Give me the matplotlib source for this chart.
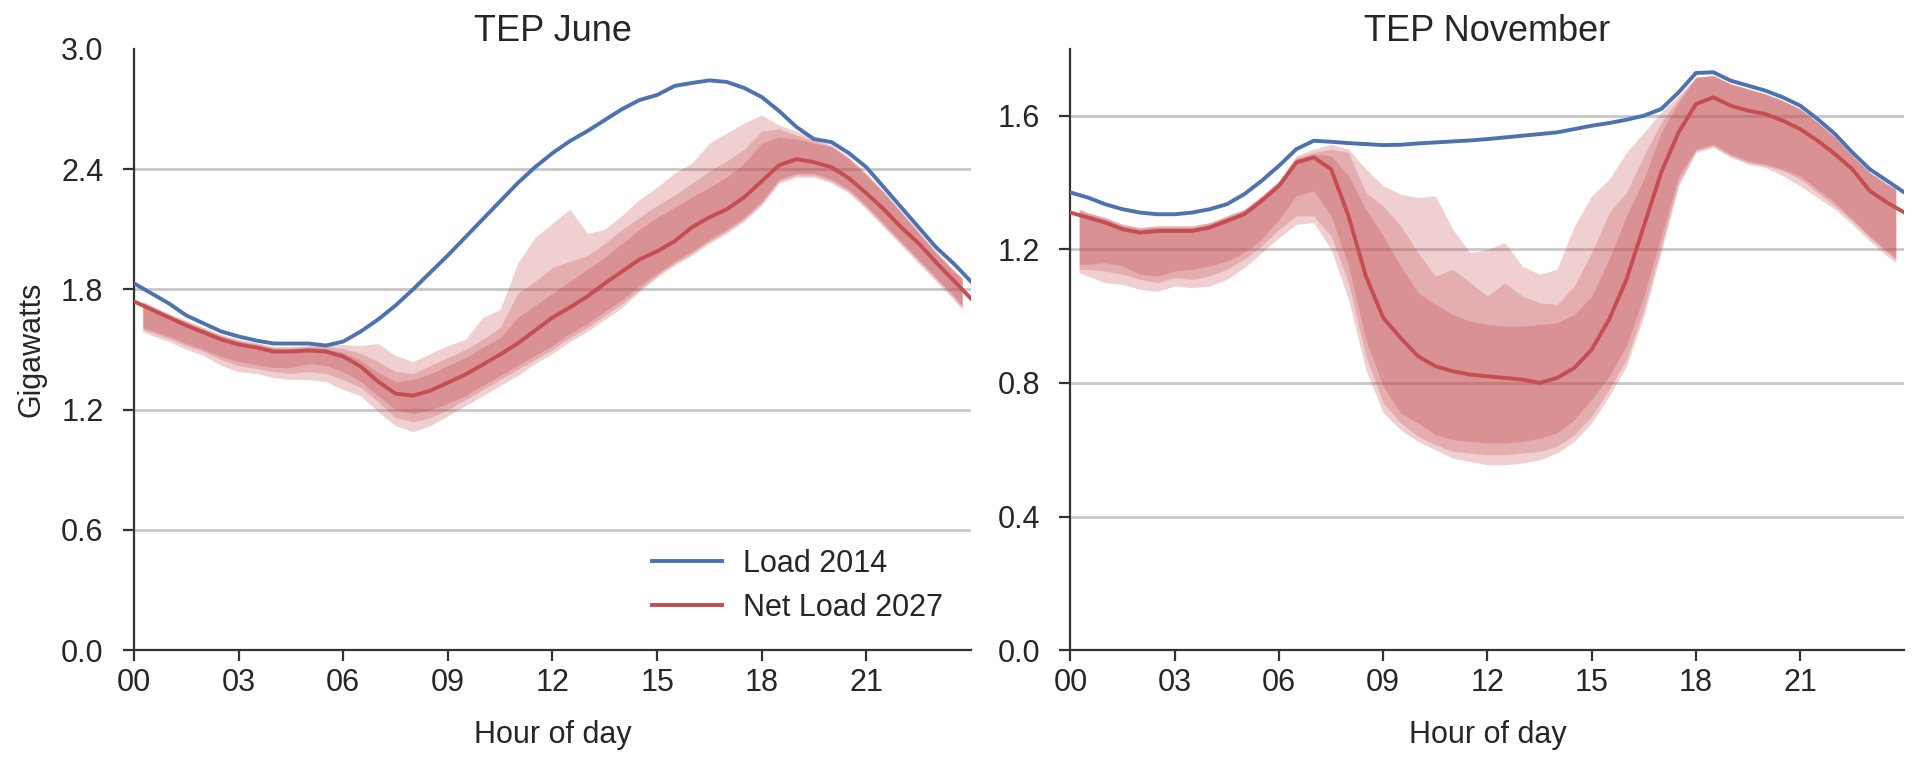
import numpy as np
import matplotlib
matplotlib.use("Agg")
import matplotlib.pyplot as plt

# half-hour samples for the load curves, band percentiles start/end a quarter hour in
hours = np.arange(0, 24.01, 0.5)
band_hours = np.r_[0.25, np.arange(0.5, 23.51, 0.5), 23.75]

# ---- June ----
june_load_2014 = [1.83, 1.78, 1.73, 1.67, 1.63, 1.59, 1.565, 1.545, 1.53, 1.53,
                  1.53, 1.52, 1.54, 1.59, 1.65, 1.72, 1.80, 1.885, 1.97, 2.06,
                  2.15, 2.24, 2.33, 2.41, 2.48, 2.54, 2.59, 2.645, 2.70, 2.745,
                  2.77, 2.815, 2.83, 2.843, 2.835, 2.805, 2.76, 2.69, 2.61, 2.55,
                  2.535, 2.48, 2.41, 2.31, 2.21, 2.11, 2.01, 1.93, 1.84]
june_net_2027 = [1.74, 1.70, 1.66, 1.62, 1.585, 1.55, 1.525, 1.51, 1.49, 1.49,
                 1.495, 1.49, 1.465, 1.415, 1.34, 1.28, 1.27, 1.295, 1.335, 1.375,
                 1.425, 1.475, 1.53, 1.595, 1.66, 1.71, 1.765, 1.83, 1.89, 1.95,
                 1.99, 2.04, 2.11, 2.16, 2.20, 2.26, 2.34, 2.42, 2.45, 2.435,
                 2.41, 2.355, 2.28, 2.20, 2.11, 2.03, 1.935, 1.845, 1.755]

june_outer_lo = [1.59, 1.57, 1.54, 1.50, 1.47, 1.42, 1.39, 1.38, 1.36, 1.35,
                 1.35, 1.34, 1.30, 1.27, 1.19, 1.12, 1.09, 1.12, 1.17, 1.22,
                 1.27, 1.32, 1.37, 1.43, 1.48, 1.54, 1.59, 1.65, 1.71, 1.79,
                 1.86, 1.92, 1.97, 2.03, 2.08, 2.14, 2.22, 2.33, 2.36, 2.36,
                 2.33, 2.28, 2.20, 2.11, 2.02, 1.93, 1.84, 1.75, 1.70]
june_mid_lo = [1.60, 1.585, 1.555, 1.52, 1.49, 1.45, 1.42, 1.405, 1.39, 1.38,
               1.39, 1.38, 1.35, 1.31, 1.24, 1.16, 1.14, 1.16, 1.20, 1.25,
               1.30, 1.35, 1.40, 1.45, 1.50, 1.56, 1.61, 1.67, 1.73, 1.80,
               1.87, 1.93, 1.98, 2.04, 2.09, 2.15, 2.23, 2.34, 2.37, 2.37,
               2.34, 2.29, 2.21, 2.12, 2.03, 1.94, 1.85, 1.76, 1.71]
june_inner_lo = [1.61, 1.595, 1.565, 1.53, 1.50, 1.465, 1.44, 1.425, 1.41, 1.41,
                 1.43, 1.42, 1.39, 1.34, 1.27, 1.20, 1.18, 1.20, 1.23, 1.27,
                 1.32, 1.37, 1.42, 1.47, 1.52, 1.58, 1.63, 1.69, 1.75, 1.82,
                 1.88, 1.94, 1.99, 2.05, 2.10, 2.16, 2.24, 2.35, 2.38, 2.38,
                 2.35, 2.30, 2.22, 2.13, 2.04, 1.95, 1.86, 1.77, 1.72]
june_inner_hi = [1.73, 1.71, 1.67, 1.635, 1.60, 1.565, 1.54, 1.525, 1.505, 1.505,
                 1.51, 1.505, 1.485, 1.445, 1.385, 1.34, 1.35, 1.38, 1.42, 1.46,
                 1.51, 1.56, 1.66, 1.72, 1.78, 1.84, 1.90, 1.96, 2.03, 2.10,
                 2.16, 2.21, 2.26, 2.31, 2.36, 2.43, 2.53, 2.56, 2.55, 2.53,
                 2.51, 2.45, 2.37, 2.28, 2.18, 2.08, 1.98, 1.89, 1.85]
june_mid_hi = [1.735, 1.715, 1.675, 1.64, 1.605, 1.57, 1.545, 1.53, 1.51, 1.51,
               1.515, 1.515, 1.505, 1.48, 1.44, 1.39, 1.38, 1.42, 1.46, 1.50,
               1.55, 1.61, 1.78, 1.84, 1.91, 1.94, 1.97, 2.03, 2.10, 2.16,
               2.22, 2.27, 2.33, 2.39, 2.44, 2.50, 2.59, 2.60, 2.57, 2.54,
               2.515, 2.455, 2.375, 2.285, 2.185, 2.085, 1.985, 1.895, 1.855]
june_outer_hi = [1.74, 1.72, 1.68, 1.645, 1.61, 1.575, 1.55, 1.535, 1.515, 1.515,
                 1.52, 1.525, 1.525, 1.52, 1.53, 1.47, 1.44, 1.48, 1.52, 1.55,
                 1.66, 1.70, 1.93, 2.06, 2.13, 2.20, 2.08, 2.10, 2.17, 2.25,
                 2.31, 2.38, 2.43, 2.53, 2.58, 2.63, 2.67, 2.62, 2.59, 2.55,
                 2.52, 2.46, 2.38, 2.29, 2.19, 2.09, 1.99, 1.90, 1.86]

# ---- November ----
nov_load_2014 = [1.37, 1.355, 1.335, 1.32, 1.31, 1.305, 1.305, 1.31, 1.32, 1.335,
                 1.365, 1.405, 1.45, 1.50, 1.525, 1.522, 1.518, 1.515, 1.512, 1.513,
                 1.517, 1.52, 1.523, 1.526, 1.53, 1.535, 1.54, 1.545, 1.55, 1.56,
                 1.57, 1.578, 1.588, 1.60, 1.62, 1.67, 1.728, 1.73, 1.705, 1.69,
                 1.675, 1.655, 1.63, 1.59, 1.545, 1.49, 1.44, 1.405, 1.37]
nov_net_2027 = [1.31, 1.295, 1.28, 1.26, 1.25, 1.255, 1.255, 1.255, 1.265, 1.285,
                1.305, 1.345, 1.39, 1.46, 1.475, 1.44, 1.30, 1.12, 0.995, 0.935,
                0.88, 0.85, 0.835, 0.825, 0.82, 0.815, 0.81, 0.80, 0.815, 0.845,
                0.90, 0.99, 1.11, 1.27, 1.43, 1.55, 1.635, 1.655, 1.63, 1.615,
                1.605, 1.585, 1.56, 1.525, 1.485, 1.44, 1.375, 1.34, 1.31]

nov_outer_lo = [1.13, 1.12, 1.10, 1.095, 1.08, 1.075, 1.09, 1.085, 1.09, 1.11,
                1.145, 1.19, 1.235, 1.275, 1.28, 1.20, 1.05, 0.84, 0.71, 0.66,
                0.625, 0.60, 0.575, 0.565, 0.555, 0.555, 0.56, 0.57, 0.59, 0.625,
                0.68, 0.76, 0.85, 1.00, 1.19, 1.39, 1.49, 1.505, 1.475, 1.455,
                1.445, 1.42, 1.39, 1.355, 1.32, 1.275, 1.225, 1.18, 1.16]
nov_mid_lo = [1.14, 1.14, 1.135, 1.125, 1.11, 1.10, 1.115, 1.11, 1.12, 1.14,
              1.17, 1.21, 1.26, 1.30, 1.30, 1.24, 1.10, 0.88, 0.74, 0.68,
              0.64, 0.615, 0.595, 0.59, 0.585, 0.585, 0.59, 0.595, 0.61, 0.645,
              0.70, 0.78, 0.87, 1.02, 1.21, 1.40, 1.495, 1.51, 1.48, 1.46,
              1.45, 1.435, 1.41, 1.37, 1.33, 1.285, 1.235, 1.19, 1.17]
nov_inner_lo = [1.155, 1.155, 1.16, 1.15, 1.125, 1.12, 1.135, 1.14, 1.15, 1.165,
                1.19, 1.23, 1.29, 1.36, 1.375, 1.30, 1.15, 0.93, 0.79, 0.71,
                0.68, 0.645, 0.63, 0.625, 0.62, 0.62, 0.625, 0.635, 0.65, 0.69,
                0.75, 0.82, 0.91, 1.06, 1.24, 1.42, 1.50, 1.515, 1.485, 1.465,
                1.455, 1.44, 1.42, 1.38, 1.34, 1.29, 1.24, 1.195, 1.175]
nov_inner_hi = [1.315, 1.305, 1.29, 1.27, 1.26, 1.265, 1.265, 1.265, 1.275, 1.295,
                1.315, 1.355, 1.40, 1.47, 1.485, 1.48, 1.42, 1.32, 1.24, 1.15,
                1.07, 1.035, 1.005, 0.985, 0.975, 0.97, 0.97, 0.975, 0.98, 1.005,
                1.06, 1.17, 1.30, 1.41, 1.55, 1.64, 1.715, 1.72, 1.695, 1.68,
                1.665, 1.645, 1.62, 1.58, 1.535, 1.48, 1.43, 1.395, 1.38]
nov_mid_hi = [1.32, 1.31, 1.295, 1.275, 1.265, 1.27, 1.27, 1.27, 1.28, 1.30,
              1.32, 1.36, 1.405, 1.475, 1.49, 1.50, 1.49, 1.37, 1.33, 1.27,
              1.19, 1.12, 1.14, 1.10, 1.06, 1.10, 1.06, 1.04, 1.035, 1.09,
              1.19, 1.31, 1.37, 1.48, 1.58, 1.65, 1.715, 1.72, 1.695, 1.68,
              1.665, 1.645, 1.62, 1.58, 1.535, 1.48, 1.43, 1.395, 1.38]
nov_outer_hi = [1.32, 1.31, 1.295, 1.275, 1.265, 1.27, 1.27, 1.27, 1.28, 1.30,
                1.32, 1.36, 1.405, 1.48, 1.50, 1.515, 1.50, 1.44, 1.39, 1.365,
                1.355, 1.36, 1.26, 1.19, 1.20, 1.22, 1.15, 1.125, 1.14, 1.27,
                1.36, 1.41, 1.49, 1.55, 1.61, 1.66, 1.715, 1.72, 1.695, 1.68,
                1.665, 1.645, 1.62, 1.58, 1.535, 1.48, 1.43, 1.395, 1.38]

hour_ticks = [0, 3, 6, 9, 12, 15, 18, 21]
hour_labels = ["00", "03", "06", "09", "12", "15", "18", "21"]

BLUE = "#4C72B0"
RED = "#C44E52"
TEXT = "#262626"

plt.rcParams["font.family"] = ["Liberation Sans", "DejaVu Sans"]
plt.rcParams["text.color"] = TEXT
plt.rcParams["axes.labelcolor"] = TEXT
plt.rcParams["xtick.color"] = TEXT
plt.rcParams["ytick.color"] = TEXT


def plot_panel(ax, load, net, bands, title, yticks, ymax):
    # outer -> inner percentile bands stacked with transparency
    for (lo, hi), alpha in zip(bands, [0.27, 0.25, 0.30]):
        ax.fill_between(band_hours, lo, hi, color=RED, alpha=alpha, lw=0, zorder=2)
    ax.plot(hours, load, color=BLUE, lw=2.8, label="Load 2014", zorder=4)
    ax.plot(hours, net, color=RED, lw=2.8, label="Net Load 2027", zorder=3)

    ax.set_xlim(0, 24)
    ax.set_ylim(0, ymax)
    ax.set_xticks(hour_ticks)
    ax.set_xticklabels(hour_labels)
    ax.set_yticks(yticks)
    ax.set_yticklabels(["%.1f" % v for v in yticks])
    ax.set_xlabel("Hour of day", fontsize=22, labelpad=16)
    ax.set_title(title, fontsize=26, pad=6)

    ax.yaxis.grid(True, color="#c8c8c8", lw=2.0, zorder=0)
    ax.set_axisbelow(True)
    for side in ["top", "right"]:
        ax.spines[side].set_visible(False)
    for side in ["left", "bottom"]:
        ax.spines[side].set_color("#333333")
        ax.spines[side].set_linewidth(1.6)
    ax.tick_params(axis="both", labelsize=22, direction="out", length=8,
                   width=1.6, color="#333333")
    ax.tick_params(axis="y", pad=14)
    ax.tick_params(axis="x", pad=5)


fig = plt.figure(figsize=(19.15, 7.64), dpi=100)
ax1 = fig.add_axes([0.070, 0.149, 0.437, 0.787])
ax2 = fig.add_axes([0.559, 0.149, 0.4355, 0.787])

plot_panel(ax1, june_load_2014, june_net_2027,
           [(june_outer_lo, june_outer_hi), (june_mid_lo, june_mid_hi),
            (june_inner_lo, june_inner_hi)],
           "TEP June", [0.0, 0.6, 1.2, 1.8, 2.4, 3.0], 3.0)
plot_panel(ax2, nov_load_2014, nov_net_2027,
           [(nov_outer_lo, nov_outer_hi), (nov_mid_lo, nov_mid_hi),
            (nov_inner_lo, nov_inner_hi)],
           "TEP November", [0.0, 0.4, 0.8, 1.2, 1.6], 1.8)

# no gridline or tick mark on the top edge of the June panel
ax1.get_ygridlines()[-1].set_visible(False)
ax1.yaxis.get_major_ticks()[-1].tick1line.set_visible(False)

ax1.set_ylabel("Gigawatts", fontsize=22, labelpad=10)
ax1.legend(loc="lower right", frameon=False, fontsize=22, handlelength=2.3,
           handletextpad=0.7, borderaxespad=0.5, labelspacing=0.45)

fig.savefig("out.png", dpi=100)
